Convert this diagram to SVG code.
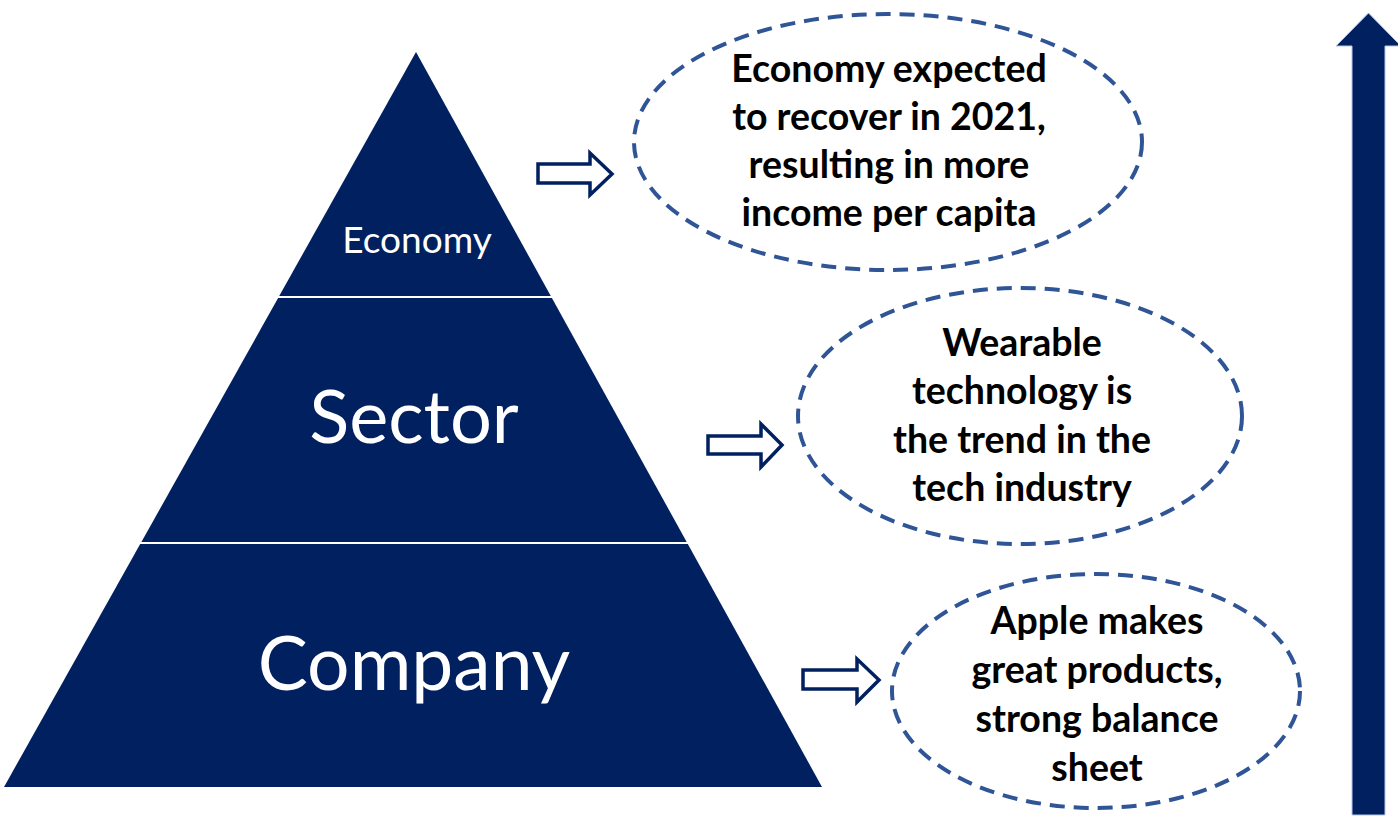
<svg xmlns="http://www.w3.org/2000/svg" width="1398" height="817" viewBox="0 0 1398 817">
<style>
.tier{fill:#002060;}
.tl{fill:#ffffff;font-family:Lato,"Liberation Sans",sans-serif;text-anchor:middle;}
.bubble{fill:none;stroke:#2F5597;stroke-width:4;stroke-dasharray:15 9;}
.bt{fill:#000000;font-family:Lato,"Liberation Sans",sans-serif;font-weight:bold;font-size:37.5px;text-anchor:middle;}
.hollow{fill:#ffffff;stroke:#002060;stroke-width:3.5;stroke-linejoin:miter;}
.big{fill:#002060;stroke:#b4c7e7;stroke-width:1;}
</style>
<rect width="1398" height="817" fill="#ffffff"/>
<g id="tier-economy">
<polygon class="tier" points="416,52 550.8,296 279.2,296"/>
<text class="tl" x="417" y="253" font-size="37">Economy</text>
</g>
<g id="tier-sector">
<polygon class="tier" points="278.1,298 551.9,298 686.7,542 141.4,542"/>
<text class="tl" x="414" y="443" font-size="74">Sector</text>
</g>
<g id="tier-company">
<polygon class="tier" points="140.2,544 687.8,544 822,787 4,787"/>
<text class="tl" x="414" y="690" font-size="75">Company</text>
</g>
<g id="bubble-economy">
<ellipse class="bubble" cx="888" cy="142" rx="254" ry="128"/>
<text class="bt" x="889" y="82">Economy expected</text>
<text class="bt" x="889" y="130">to recover in 2021,</text>
<text class="bt" x="889" y="178">resulting in more</text>
<text class="bt" x="889" y="226">income per capita</text>
</g>
<g id="bubble-sector">
<ellipse class="bubble" cx="1020" cy="416" rx="222" ry="128"/>
<text class="bt" x="1022" y="356">Wearable</text>
<text class="bt" x="1022" y="404">technology is</text>
<text class="bt" x="1022" y="453">the trend in the</text>
<text class="bt" x="1022" y="501">tech industry</text>
</g>
<g id="bubble-company">
<ellipse class="bubble" cx="1096" cy="691" rx="204" ry="117"/>
<text class="bt" x="1097" y="634">Apple makes</text>
<text class="bt" x="1097" y="683">great products,</text>
<text class="bt" x="1097" y="732">strong balance</text>
<text class="bt" x="1097" y="781">sheet</text>
</g>
<g id="connectors">
<polygon class="hollow" points="538,164 590,164 590,153 612,174 590,195 590,183 538,183"/>
<polygon class="hollow" points="708,436 761,436 761,424 782,445 761,467 761,454 708,454"/>
<polygon class="hollow" points="803,670 857,670 857,659 879,680 857,702 857,689 803,689"/>
<polygon class="big" points="1368.5,13 1401,46 1385,46 1385,815 1352,815 1352,46 1336,46"/>
</g>
</svg>
